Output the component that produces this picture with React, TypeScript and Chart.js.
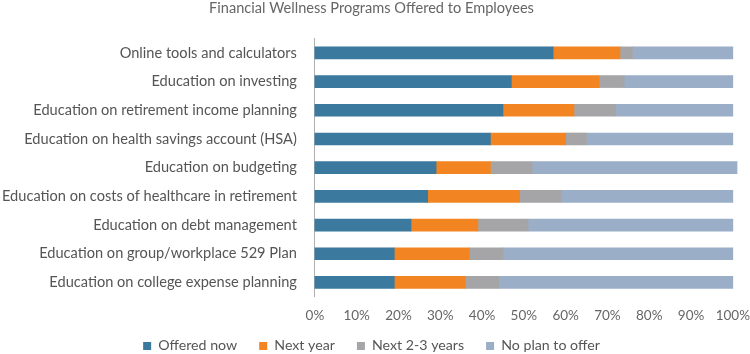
import React, { useEffect, useRef } from "react";
import { Chart, registerables } from "chart.js";

Chart.register(...registerables);

const categories = [
  "Online tools and calculators",
  "Education on investing",
  "Education on retirement income planning",
  "Education on health savings account (HSA)",
  "Education on budgeting",
  "Education on costs of healthcare in retirement",
  "Education on debt management",
  "Education on group/workplace 529 Plan",
  "Education on college expense planning",
];

const offeredNow = [57, 47, 45, 42, 29, 27, 23, 19, 19];
const nextYear = [16, 21, 17, 18, 13, 22, 16, 18, 17];
const next2to3Years = [3, 6, 10, 5, 10, 10, 12, 8, 8];
const noPlan = [24, 26, 28, 35, 49, 41, 49, 55, 56];

const seriesNames = ["Offered now", "Next year", "Next 2-3 years", "No plan to offer"];
const seriesColors = ["#3b799f", "#f28522", "#a5a5a8", "#9aaec8"];

const xTicks = [0, 10, 20, 30, 40, 50, 60, 70, 80, 90, 100];

const legendShift = {
  id: "legendShift",
  afterLayout(chart: any) {
    const l = chart.legend;
    if (l) {
      l.top -= 8;
      l.bottom -= 8;
    }
  },
};

export default function App() {
  const ref = useRef<HTMLCanvasElement | null>(null);
  useEffect(() => {
    if (!ref.current) return;
    const values = [offeredNow, nextYear, next2to3Years, noPlan];
    const chart = new Chart(ref.current, {
      type: "bar",
      data: {
        labels: categories,
        datasets: values.map((d, i) => ({
          label: seriesNames[i],
          data: d,
          backgroundColor: seriesColors[i],
          borderWidth: 0,
          barThickness: 12,
          clip: false as any,
        })),
      },
      plugins: [legendShift],
      options: {
        indexAxis: "y",
        animation: false,
        responsive: true,
        maintainAspectRatio: false,
        layout: { padding: { left: 0, right: 2, top: 0, bottom: 0 } },
        plugins: {
          title: {
            display: true,
            text: "Financial Wellness Programs Offered to Employees",
            color: "#666",
            font: { family: "Lato", size: 14.6, weight: "normal" },
            padding: { top: 0, bottom: 21 },
          },
          legend: {
            position: "bottom",
            labels: {
              boxWidth: 8,
              boxHeight: 8,
              color: "#555",
              font: { family: "Lato", size: 14.2 },
              padding: 22,
            },
          },
          tooltip: { enabled: false },
        },
        scales: {
          x: {
            stacked: true,
            min: 0,
            max: 100,
            afterBuildTicks: (axis: any) => {
              axis.ticks = xTicks.map((v) => ({ value: v }));
            },
            afterFit: (axis: any) => {
              axis.height = 28;
            },
            grid: { display: false, drawTicks: false },
            border: { display: false },
            ticks: {
              color: "#666",
              font: { family: "Lato", size: 13.5 },
              callback: (v: any) => v + "%",
              padding: 11,
              maxRotation: 0,
            },
          },
          y: {
            stacked: true,
            grid: { display: false, drawTicks: false },
            border: { display: true, color: "#b0b0b0", width: 1 },
            ticks: {
              color: "#555",
              font: { family: "Lato", size: 14.6 },
              padding: 18,
            },
          },
        },
      },
    });
    return () => chart.destroy();
  }, []);
  return (
    <div style={{ position: "fixed", left: -16, top: 0, width: 777, height: 371, background: "#fff" }}>
      <canvas ref={ref} />
    </div>
  );
}
